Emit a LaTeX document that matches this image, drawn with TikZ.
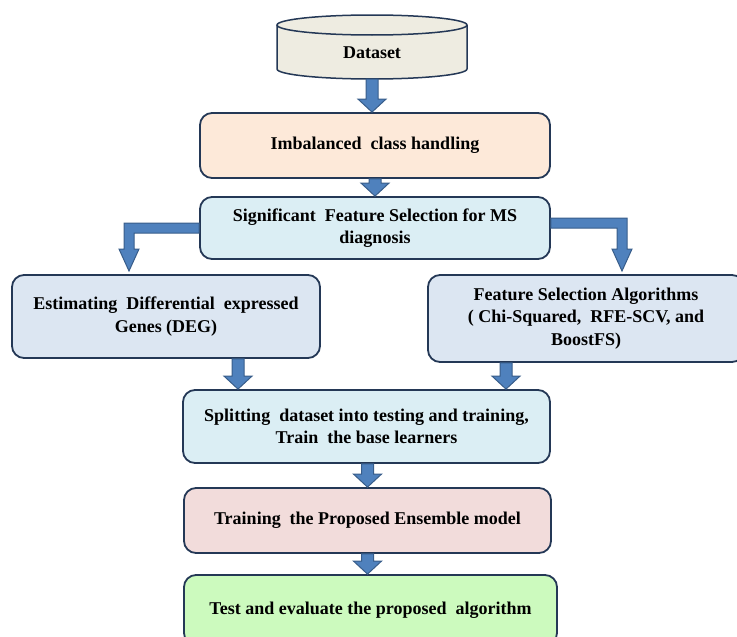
\documentclass[tikz,border=0pt]{standalone}
\usepackage{fontspec}
\setmainfont{Liberation Serif}
\usetikzlibrary{calc}
\definecolor{boxline}{RGB}{36,56,86}
\definecolor{cylfill}{RGB}{238,236,225}
\definecolor{peach}{RGB}{253,233,217}
\definecolor{lblue}{RGB}{219,238,244}
\definecolor{bgrey}{RGB}{220,230,242}
\definecolor{pink}{RGB}{242,220,219}
\definecolor{lgreen}{RGB}{204,250,190}
\definecolor{arrfill}{RGB}{79,129,189}
\definecolor{arredge}{RGB}{56,93,138}
\newcommand\vblock[2]{\path[arrowfill] let \p1=#1, \p2=#2 in
  (\x1-6pt,\y1) -- (\x1+6pt,\y1) -- (\x1+6pt,\y2+13pt) -- (\x1+14pt,\y2+13pt) --
  (\x1,\y2) -- (\x1-14pt,\y2+13pt) -- (\x1-6pt,\y2+13pt) -- cycle;}
\begin{document}
\begin{tikzpicture}[x=1pt,y=-1pt,
  box/.style={draw=boxline, line width=1.8pt, rounded corners=12pt,
    font=\bfseries\fontsize{18}{22.5}\selectfont, align=center, inner sep=0pt},
  arrowfill/.style={fill=arrfill, draw=arredge, line width=1pt}]
\useasboundingbox (0,0) rectangle (737,637);
% cylinder
\draw[fill=cylfill, draw=boxline, line width=1.5pt] (277,25) -- (277,69)
  arc[start angle=180, end angle=0, x radius=95, y radius=10] -- (467,25);
\draw[fill=cylfill, draw=boxline, line width=1.5pt] (372,25) ellipse[x radius=95, y radius=10];
\node[minimum width=190pt, minimum height=64pt, inner sep=0pt] (ds) at (372,47) {};
\node[font=\bfseries\fontsize{18}{22.5}\selectfont] (dstext) at (372,53) {Dataset};
% boxes
\node[box, fill=peach, minimum width=350pt, minimum height=65pt] (imb) at (375,145.5) {Imbalanced\ \ class\ handling};
\node[box, fill=lblue, minimum width=350pt, minimum height=62pt] (sig) at (375,228) {Significant\ \ Feature Selection for MS\\diagnosis};
\node[box, fill=bgrey, minimum width=308pt, minimum height=83pt] (deg) at (166,316.5) {Estimating\ \ Differential\ \ expressed\\Genes (DEG)};
\node[box, fill=bgrey, minimum width=316pt, minimum height=87pt] (fs) at (586,318.5) {Feature Selection Algorithms\\( Chi-Squared,\ \ RFE-SCV, and\\BoostFS)};
\node[box, fill=lblue, minimum width=367pt, minimum height=73pt] (spl) at (366.5,426.5) {Splitting\ \ dataset into testing and training,\\Train\ \ the base learners};
\node[box, fill=pink, minimum width=367pt, minimum height=65pt] (trn) at (367.5,520.5) {Training\ \ the Proposed Ensemble model};
\node[box, fill=lgreen, minimum width=373pt, minimum height=70pt] (tst) at (370.5,610) {Test and evaluate the proposed\ \ algorithm};
% vertical block arrows
\vblock{(ds.south)}{(imb.north -| ds.south)}
\vblock{(imb.south)}{(sig.north)}
\coordinate (degx) at (238,0);
\coordinate (fsx) at (506,0);
\vblock{(deg.south -| degx)}{(spl.north -| degx)}
\vblock{(fs.south -| fsx)}{(spl.north -| fsx)}
\vblock{(spl.south -| trn.north)}{(trn.north)}
\vblock{(trn.south)}{(tst.north -| trn.south)}
% elbow arrows
\coordinate (lt) at (129,271);
\coordinate (rt) at (622,271);
\path[arrowfill] let \p1=(sig.west), \p2=(lt) in
  (\x1,\y1+5pt) -- (\x2-5pt,\y1+5pt) -- (\x2-5pt,\y2+22pt) -- (\x2-10pt,\y2+22pt) --
  (\x2,\y2) -- (\x2+10pt,\y2+22pt) -- (\x2+5pt,\y2+22pt) -- (\x2+5pt,\y1-5pt) -- (\x1,\y1-5pt) -- cycle;
\path[arrowfill] let \p1=([yshift=5pt]sig.east), \p2=(rt) in
  (\x1,\y1+5pt) -- (\x2+5pt,\y1+5pt) -- (\x2+5pt,\y2+22pt) -- (\x2+10pt,\y2+22pt) --
  (\x2,\y2) -- (\x2-10pt,\y2+22pt) -- (\x2-5pt,\y2+22pt) -- (\x2-5pt,\y1-5pt) -- (\x1,\y1-5pt) -- cycle;
\end{tikzpicture}
\end{document}
